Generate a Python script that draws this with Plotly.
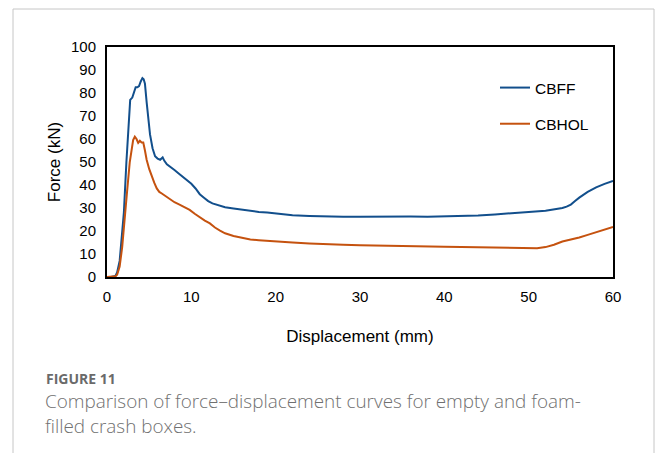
import plotly.graph_objects as go

# CBFF (foam-filled) force-displacement
cbff_x = [0, 0.5, 1.0, 1.2, 1.5, 1.8, 2.0, 2.3, 2.6, 2.75, 3.0, 3.2, 3.4, 3.6, 3.8, 4.0, 4.2, 4.35, 4.5, 4.7,
          4.9, 5.1, 5.4, 5.7, 6.0, 6.3, 6.6, 6.8, 7.1, 7.5, 8.0, 8.5, 9.0, 9.5, 10.0, 10.5, 11.0, 11.5, 12.0, 12.5,
          13.0, 14.0, 15.0, 16.0, 17.0, 18.0, 19.0, 20.0, 21.0, 22.0, 24.0, 26.0, 28.0, 30.0, 32.0, 34.0, 36.0, 38.0,
          40.0, 42.0, 44.0, 46.0, 48.0, 50.0, 52.0, 53.0, 54.0, 54.5, 55.0, 55.5, 56.0, 57.0, 58.0, 59.0, 60.0]
cbff_y = [0, 0, 0.5, 2, 7, 18, 28, 50, 70, 77, 78, 80, 82.5, 82.5, 83, 85, 86.5, 86, 84, 76,
          68, 62, 56, 52.5, 51.5, 51, 52, 50.5, 49, 48, 46.5, 45, 43.5, 42, 40.5, 38.5, 36, 34.5, 33, 32,
          31.5, 30.3, 29.8, 29.2, 28.7, 28.3, 28, 27.6, 27.1, 26.8, 26.5, 26.2, 26.2, 26.2, 26.3, 26.2, 26.3, 26.2,
          26.3, 26.4, 26.7, 27.2, 27.6, 28.3, 28.8, 29.3, 30, 30.6, 31.5, 33, 34.5, 37, 39, 40.5, 41.8]

# CBHOL (empty) force-displacement
cbhol_x = [0, 0.5, 1.0, 1.2, 1.5, 1.8, 2.1, 2.4, 2.7, 2.9, 3.1, 3.3, 3.5, 3.7, 3.9, 4.1, 4.3, 4.5, 4.7, 5.0,
           5.3, 5.6, 5.9, 6.2, 6.5, 7.0, 7.5, 8.0, 8.6, 9.2, 9.8, 10.4, 11.0, 11.6, 12.2, 12.8, 13.4, 14.0, 15.0, 16.0,
           17.0, 18.0, 20.0, 22.0, 24.0, 26.0, 28.0, 30.0, 32.0, 34.0, 36.0, 38.0, 40.0, 42.0, 44.0, 46.0, 48.0, 50.0,
           51.0, 52.0, 53.0, 54.0, 55.0, 56.0, 57.0, 58.0, 59.0, 60.0]
cbhol_y = [0, 0, 0.3, 1, 4.5, 13, 24, 38, 50, 56, 59.5, 61, 60, 58.3, 59.2, 58.5, 58.5, 55, 51, 47,
           43.5, 41, 38.5, 37, 36.3, 35, 33.5, 32.5, 31.5, 30.3, 29.2, 27.5, 25.8, 24.5, 23.3, 21.5, 20.2, 19, 17.8, 17,
           16.3, 16, 15.4, 15, 14.6, 14.2, 14, 13.8, 13.6, 13.4, 13.3, 13.2, 13.1, 13, 12.9, 12.8, 12.7, 12.6,
           12.5, 13, 14, 15.4, 16.2, 17.2, 18.3, 19.5, 20.7, 21.8]

x_ticks = [0, 10, 20, 30, 40, 50, 60]
y_ticks = [0, 10, 20, 30, 40, 50, 60, 70, 80, 90, 100]

W, H = 656, 453
L, R, T, B = 107, 613, 47, 277
pw, ph = R - L, B - T


def px(x):
    return (x - L) / pw


def py(y):
    return (B - y) / ph


fig = go.Figure()
fig.add_trace(go.Scatter(x=cbff_x, y=cbff_y, mode="lines", name="CBFF", legendgroup="a",
                         line=dict(color="#124F8C", width=2)))
fig.add_trace(go.Scatter(x=cbhol_x, y=cbhol_y, mode="lines", name="CBHOL", legendgroup="b",
                         line=dict(color="#C5520F", width=2)))

FAM = "Liberation Sans, Arial, sans-serif"
axis_font = dict(family=FAM, size=15, color="#000000")

fig.update_layout(
    width=W, height=H,
    margin=dict(l=L, r=W - R, t=T, b=H - B, autoexpand=False),
    paper_bgcolor="white", plot_bgcolor="white",
    showlegend=True,
    legend=dict(x=px(495), y=py(71), xanchor="left", yanchor="top",
                font=dict(family=FAM, size=15.5, color="#000"),
                tracegroupgap=13, bgcolor="rgba(0,0,0,0)", itemwidth=30),
    xaxis=dict(range=[0, 60], tickvals=x_ticks, showgrid=False, zeroline=False,
               showline=True, linecolor="black", linewidth=2, mirror=True, ticks="",
               tickfont=axis_font, layer="below traces", ticklabelstandoff=5,
               title=dict(text="Displacement (mm)", font=dict(family=FAM, size=17, color="#000"),
                          standoff=26)),
    yaxis=dict(range=[0, 100], tickvals=y_ticks, showgrid=False, zeroline=False,
               showline=True, linecolor="black", linewidth=2, mirror=True, ticks="",
               tickfont=axis_font, layer="below traces", ticklabelstandoff=6,
               title=dict(text="Force (kN)", font=dict(family=FAM, size=17, color="#000"),
                          standoff=6)),
)

# outer figure frame
fig.add_shape(type="line", xref="paper", yref="paper", x0=px(13), x1=px(654), y0=py(9), y1=py(9),
              line=dict(color="#c6c6c6", width=1))
fig.add_shape(type="line", xref="paper", yref="paper", x0=px(13), x1=px(13), y0=py(9), y1=py(460),
              line=dict(color="#c6c6c6", width=1))
fig.add_shape(type="line", xref="paper", yref="paper", x0=px(654), x1=px(654), y0=py(9), y1=py(460),
              line=dict(color="#c6c6c6", width=1))

cap_font = "Open Sans, Noto Sans, sans-serif"
fig.add_annotation(xref="paper", yref="paper", x=px(44), y=py(378), xanchor="left", yanchor="middle",
                   text="<b>FIGURE 11</b>", showarrow=False,
                   font=dict(family=cap_font, size=14, color="#6a6a6a"))
fig.add_annotation(xref="paper", yref="paper", x=px(43), y=py(401), xanchor="left", yanchor="middle",
                   text="Comparison of force\u2013displacement curves for empty and foam-", showarrow=False,
                   font=dict(family=cap_font, size=18.9, color="#707070", weight=300))
fig.add_annotation(xref="paper", yref="paper", x=px(43), y=py(426), xanchor="left", yanchor="middle",
                   text="filled crash boxes.", showarrow=False,
                   font=dict(family=cap_font, size=18.9, color="#707070", weight=300))

fig.write_html("out.html")
